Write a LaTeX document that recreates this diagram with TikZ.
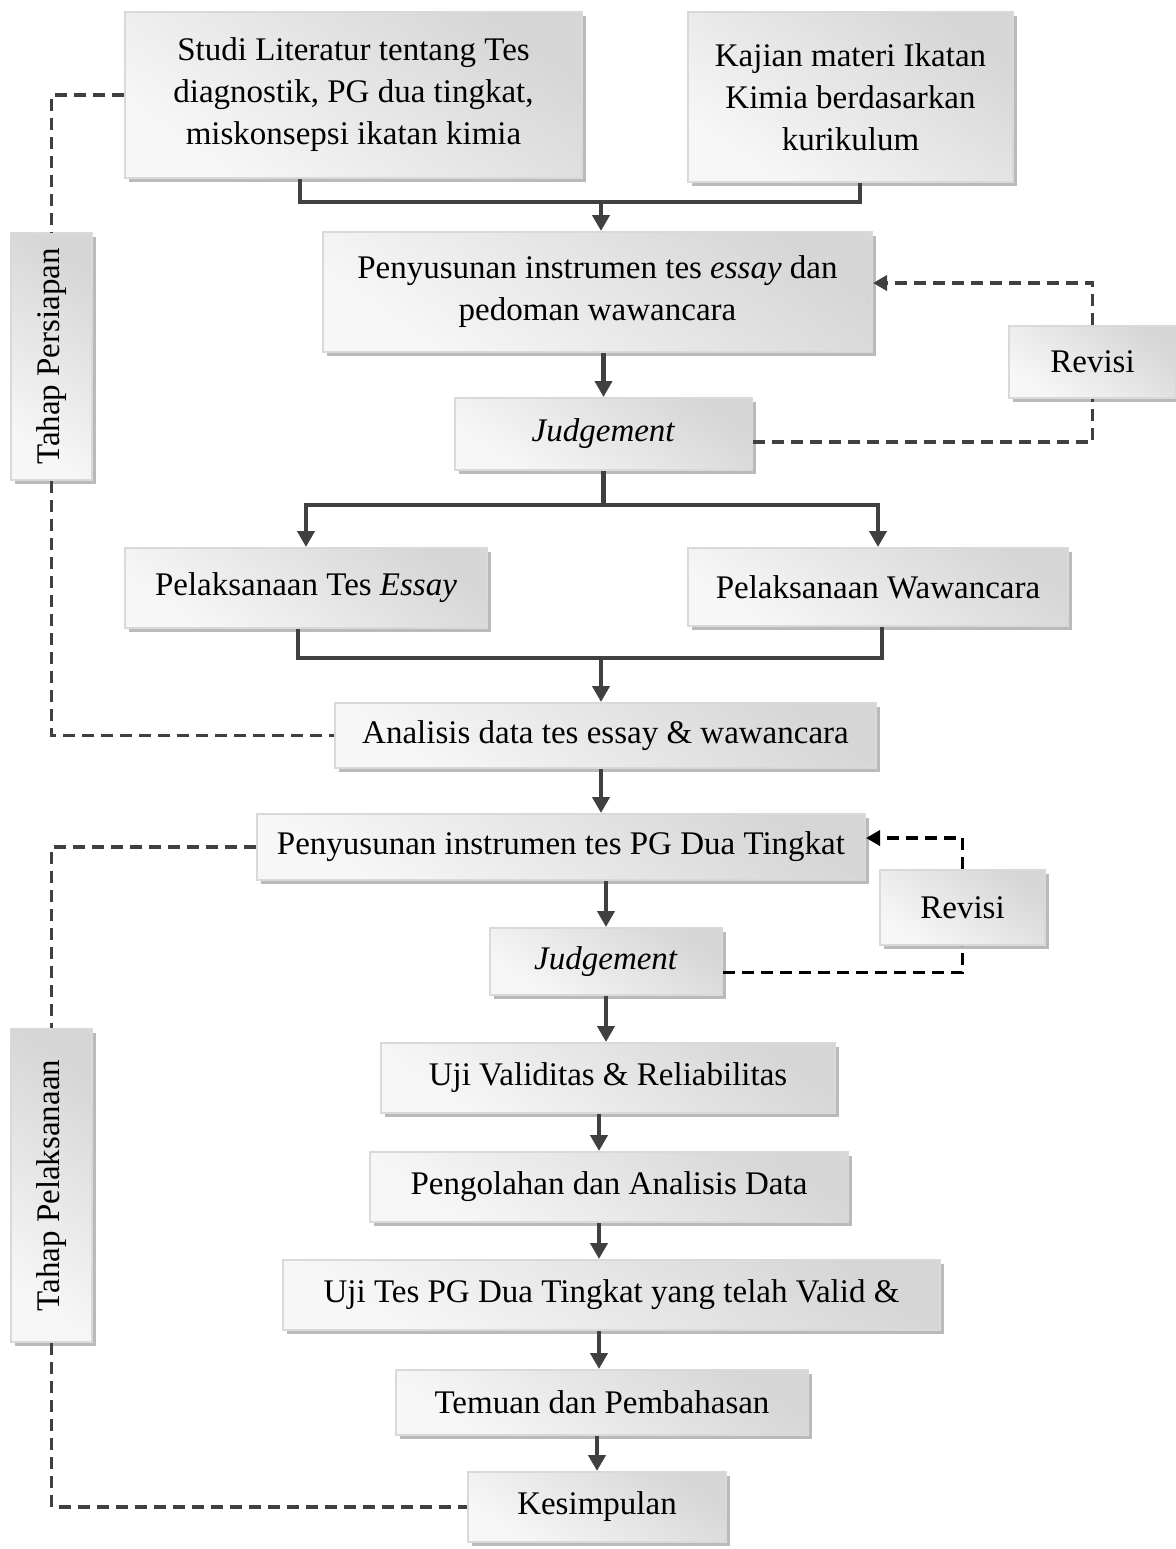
\documentclass[tikz,border=0pt]{standalone}
\usepackage{fontspec}
\setmainfont{Liberation Serif}
\usepackage{tikz}
\usetikzlibrary{arrows.meta, positioning, shadows}
\definecolor{linegray}{HTML}{404040}
\tikzstyle{block}  = [rectangle, draw=black!15, line width=1pt,
                      top color=black!16, bottom color=black!3, shading angle=-35,
                      drop shadow={shadow xshift=2pt, shadow yshift=-2pt,
                                   fill=black!27, opacity=1},
                      inner sep=0pt, align=center, text=black]
\tikzstyle{link}   = [line width=2.2pt, draw=linegray]
\tikzstyle{arrow}  = [link, -{Triangle[length=8pt, width=8.5pt]}]
\tikzstyle{dline}  = [line width=1.9pt, draw=linegray, dash pattern=on 6pt off 3.5pt]
\tikzstyle{darrow} = [dline, -{Triangle[length=7pt, width=7.5pt]}]

\begin{document}
\begin{tikzpicture}[x=0.5pt, y=-0.5pt, font=\fontsize{16.5}{21}\selectfont]
  \useasboundingbox (0,0) rectangle (1176,1549);

  % Persiapan
  \node[block, minimum width=228.5pt, minimum height=83pt] (studi) at (353.5,95)
    {Studi Literatur tentang Tes\\diagnostik, PG dua tingkat,\\miskonsepsi ikatan kimia};
  \node[block, minimum width=162.5pt, minimum height=85pt] (kajian) at (850.5,97)
    {Kajian materi Ikatan\\Kimia berdasarkan\\kurikulum};
  \node[block, minimum width=274.5pt, minimum height=60pt] (susun1) at (597.5,292)
    {Penyusunan instrumen tes \textit{essay} dan\\pedoman wawancara};
  \node[block, minimum width=148.5pt, minimum height=36pt] (judge1) at (603.5,434)
    {\textit{Judgement}};
  \node[block, minimum width=83.5pt, minimum height=36pt] (revisi1) at (1092.5,362)
    {Revisi};
  \node[block, minimum width=181pt, minimum height=40pt] (essay) at (306,588)
    {Pelaksanaan Tes \textit{Essay}};
  \node[block, minimum width=190pt, minimum height=39pt] (wawan) at (878,587)
    {Pelaksanaan Wawancara};
  \node[block, minimum width=270.5pt, minimum height=32.5pt] (analisis) at (605.5,735.5)
    {Analisis data tes essay \& wawancara};

  % Pelaksanaan
  \node[block, minimum width=304pt, minimum height=33pt] (susun2) at (561,847)
    {Penyusunan instrumen tes PG Dua Tingkat};
  \node[block, minimum width=82.5pt, minimum height=37.5pt] (revisi2) at (962.5,907.5)
    {Revisi};
  \node[block, minimum width=116pt, minimum height=33.5pt] (judge2) at (606,961.5)
    {\textit{Judgement}};
  \node[block, minimum width=227pt, minimum height=35pt] (uji1) at (608,1078)
    {Uji Validitas \& Reliabilitas};
  \node[block, minimum width=239pt, minimum height=35pt] (olah) at (609,1187)
    {Pengolahan dan Analisis Data};
  \node[block, minimum width=328.5pt, minimum height=35pt] (uji2) at (611.5,1295)
    {Uji Tes PG Dua Tingkat yang telah Valid \&};
  \node[block, minimum width=206pt, minimum height=32.5pt] (temuan) at (602,1402.5)
    {Temuan dan Pembahasan};
  \node[block, minimum width=129pt, minimum height=35pt] (kesimp) at (597,1507)
    {Kesimpulan};

  % Tahap
  \node[block, minimum width=40.5pt, minimum height=123.5pt] (persiapan) at (51.5,356.5)
    {\rotatebox{90}{Tahap Persiapan}};
  \node[block, minimum width=40.5pt, minimum height=156.5pt] (pelaksanaan) at (51.5,1185.5)
    {\rotatebox{90}{Tahap Pelaksanaan}};

  % Main flow
  \coordinate (j1) at (601,202);
  \draw[link] (studi.south -| 300,0) |- (j1) -| (kajian.south -| 860,0);
  \draw[arrow] (j1) -- (susun1.north -| j1);
  \draw[arrow] (susun1.south -| judge1) -- (judge1.north);
  \coordinate (j2) at (603.5,505);
  \draw[link] (judge1.south) -- (j2);
  \draw[arrow] (j2) -| (essay.north);
  \draw[arrow] (j2) -| (wawan.north);
  \coordinate (j3) at (601,658);
  \draw[link] (essay.south -| 298,0) |- (j3) -| (wawan.south -| 882,0);
  \draw[arrow] (j3) -- (analisis.north -| j3);
  \draw[arrow] (analisis.south -| 601,0) -- (susun2.north -| 601,0);
  \draw[arrow] (susun2.south -| judge2) -- (judge2.north);
  \draw[arrow] (judge2.south) -- (uji1.north -| judge2);
  \draw[arrow] (uji1.south -| 599,0) -- (olah.north -| 599,0);
  \draw[arrow] (olah.south -| 599,0) -- (uji2.north -| 599,0);
  \draw[arrow] (uji2.south -| 599,0) -- (temuan.north -| 599,0);
  \draw[arrow] (temuan.south -| 597,0) -- (kesimp.north);

  % Revisi loops
  \draw[dline] ([yshift=-4pt]judge1.east) -| (revisi1.south);
  \draw[darrow] (revisi1.north) |- ([yshift=4.5pt]susun1.east);
  \draw[dline, draw=black] ([yshift=-5.5pt]judge2.east) -| (revisi2.south);
  \draw[darrow, draw=black] (revisi2.north) |- ([yshift=4.5pt]susun2.east);

  % Tahap brackets
  \draw[dline] (studi.west) -| (persiapan.north);
  \draw[dline] (persiapan.south) |- (analisis.west);
  \draw[dline] (susun2.west) -| (pelaksanaan.north);
  \draw[dline] (pelaksanaan.south) |- (kesimp.west);
\end{tikzpicture}
\end{document}
